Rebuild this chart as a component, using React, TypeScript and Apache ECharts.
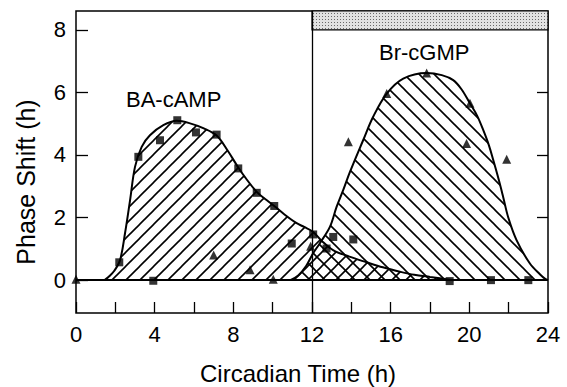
import React, { useEffect, useRef } from "react";
import * as echarts from "echarts";

// ---- data ----
const xTickLabels = [0, 4, 8, 12, 16, 20, 24];
const xTicks = [0, 2, 4, 6, 8, 10, 12, 14, 16, 18, 20, 22, 24];
const yTickLabels = [0, 2, 4, 6, 8];
const yRightTicks = [2, 4, 6];
const xRange = [0, 24];
const yRange = [-1.05, 8.6];
const darkPeriod = [12, 24];
const darkBarBottom = 8;
const midLine = 12;

// fitted curve of BA-cAMP (h)
const baCurve = [
  [1.45, 0], [1.65, 0.1], [1.95, 0.3], [2.24, 0.64], [2.49, 1.49], [2.75, 2.56],
  [3.0, 3.62], [3.34, 4.26], [3.76, 4.63], [4.44, 4.95], [5.12, 5.09], [5.8, 5.01],
  [6.5, 4.85], [7.15, 4.62], [7.7, 4.15], [8.25, 3.6], [8.7, 3.2], [9.19, 2.82],
  [9.6, 2.6], [10.08, 2.37], [10.6, 2.1], [11.22, 1.82], [11.6, 1.7], [12.06, 1.54],
  [12.5, 1.25], [13.07, 0.96], [13.9, 0.75], [14.78, 0.57], [15.6, 0.41], [16.47, 0.27],
  [17.2, 0.17], [18.0, 0.1], [18.6, 0.05], [19.2, 0],
];

// fitted curve of Br-cGMP (h)
const brCurve = [
  [10.9, 0], [11.3, 0.15], [11.7, 0.45], [12.05, 0.85], [12.4, 1.18], [12.91, 1.7],
  [13.25, 2.34], [13.6, 2.9], [13.93, 3.46], [14.6, 4.47], [15.11, 5.22], [15.8, 5.96],
  [16.64, 6.44], [17.83, 6.62], [18.6, 6.55], [19.18, 6.39], [19.6, 6.1], [20.03, 5.65],
  [20.4, 5.25], [20.71, 4.79], [21.0, 4.3], [21.22, 3.83], [21.5, 3.2], [21.72, 2.66],
  [21.98, 2.0], [22.4, 1.28], [23.08, 0.53], [23.6, 0.18], [23.84, 0.05], [24, 0],
];

// measured points, BA-cAMP (squares)
const baPoints = [
  [2.2, 0.57], [3.17, 3.94], [4.27, 4.47], [5.15, 5.11], [6.1, 4.72], [7.15, 4.65],
  [8.25, 3.57], [9.19, 2.79], [10.08, 2.37], [10.97, 1.17], [12.06, 1.46], [12.74, 1.01],
  [13.08, 1.38], [14.1, 1.3], [19.0, -0.03], [21.1, 0.0], [23.0, 0.0], [3.93, -0.02],
];

// measured points, Br-cGMP (triangles)
const brPoints = [
  [0, 0.03], [7.0, 0.8], [8.85, 0.33], [10.03, 0.03], [11.93, 1.08], [13.85, 4.42],
  [15.8, 5.96], [17.83, 6.62], [19.86, 4.37], [20.03, 5.65], [21.9, 3.86],
];

const FONT = "'Liberation Sans', Arial, Helvetica, sans-serif";

function hatchCanvas(size: number, dir: "/" | "\\", lw: number) {
  const c = document.createElement("canvas");
  c.width = size;
  c.height = size;
  const ctx = c.getContext("2d")!;
  ctx.strokeStyle = "#000";
  ctx.lineWidth = lw;
  const s = size;
  const seg = (x1: number, y1: number, x2: number, y2: number) => {
    ctx.beginPath();
    ctx.moveTo(x1, y1);
    ctx.lineTo(x2, y2);
    ctx.stroke();
  };
  if (dir === "/") {
    seg(-2, s + 2, s + 2, -2);
    seg(-2, 2, 2, -2);
    seg(s - 2, s + 2, s + 2, s - 2);
  } else {
    seg(-2, -2, s + 2, s + 2);
    seg(s - 2, -2, s + 2, 2);
    seg(-2, s - 2, 2, s + 2);
  }
  return c;
}

function stippleCanvas() {
  const c = document.createElement("canvas");
  c.width = 3;
  c.height = 3;
  const ctx = c.getContext("2d")!;
  ctx.fillStyle = "#e2e2e2";
  ctx.fillRect(0, 0, 3, 3);
  ctx.fillStyle = "#6a6a6a";
  ctx.fillRect(1, 1, 1, 1);
  return c;
}

export default function App() {
  const ref = useRef<HTMLDivElement>(null);

  useEffect(() => {
    if (!ref.current) return;
    const chart = echarts.init(ref.current, null, { renderer: "svg" });

    const baPattern: any = { image: hatchCanvas(14, "/", 1.6), repeat: "repeat", imageWidth: 14, imageHeight: 14 };
    const brPattern: any = { image: hatchCanvas(15, "\\", 1.6), repeat: "repeat", imageWidth: 15, imageHeight: 15 };
    const stipple: any = { image: stippleCanvas(), repeat: "repeat", imageWidth: 3, imageHeight: 3 };

    const option: any = {
      animation: false,
      backgroundColor: "#fff",
      grid: {
        left: 76,
        right: 19,
        top: 11,
        bottom: 74,
        show: true,
        borderColor: "#000",
        borderWidth: 1.5,
        backgroundColor: "transparent",
      },
      xAxis: {
        type: "value",
        min: xRange[0],
        max: xRange[1],
        interval: 2,
        axisLine: { show: false, onZero: false },
        axisTick: { show: true, inside: true, length: 11, lineStyle: { color: "#000", width: 1.3 }, customValues: xTicks },
        axisLabel: { customValues: xTickLabels, color: "#000", fontFamily: FONT, fontSize: 22, margin: 10 },
        splitLine: { show: false },
      },
      yAxis: [
        {
          type: "value",
          min: yRange[0],
          max: yRange[1],
          axisLine: { show: false, onZero: false },
          axisTick: { show: true, inside: true, length: 12, lineStyle: { color: "#000", width: 1.3 }, customValues: yTickLabels },
          axisLabel: { customValues: yTickLabels, color: "#000", fontFamily: FONT, fontSize: 22, margin: 10 },
          splitLine: { show: false },
        },
        {
          type: "value",
          position: "right",
          min: yRange[0],
          max: yRange[1],
          axisLine: { show: false, onZero: false },
          axisTick: { show: true, inside: true, length: 11, lineStyle: { color: "#000", width: 1.3 }, customValues: yRightTicks },
          axisLabel: { show: false },
          splitLine: { show: false },
        },
      ],
      graphic: [
        { type: "text", left: 126, top: 88, style: { text: "BA-cAMP", fill: "#000", font: `22px ${FONT}` } },
        { type: "text", left: 379, top: 41, style: { text: "Br-cGMP", fill: "#000", font: `22px ${FONT}` } },
        {
          type: "text",
          x: 298,
          y: 373,
          style: { text: "Circadian Time (h)", fill: "#000", font: `24px ${FONT}`, align: "center", verticalAlign: "middle" },
        },
        {
          type: "text",
          x: 26,
          y: 182,
          rotation: Math.PI / 2,
          style: { text: "Phase Shift (h)", fill: "#000", font: `25px ${FONT}`, align: "center", verticalAlign: "middle" },
        },
      ],
      series: [
        {
          type: "line",
          name: "BA-cAMP",
          data: baCurve,
          smooth: 0.35,
          symbol: "none",
          lineStyle: { color: "#000", width: 2 },
          areaStyle: { color: baPattern, opacity: 1 },
          z: 2,
          markArea: {
            silent: true,
            itemStyle: { color: stipple, borderColor: "#000", borderWidth: 1.2 },
            data: [[{ xAxis: darkPeriod[0], yAxis: darkBarBottom }, { xAxis: darkPeriod[1], yAxis: yRange[1] }]],
          },
          markLine: {
            silent: true,
            symbol: ["none", "none"],
            label: { show: false },
            data: [
              { yAxis: 0, lineStyle: { color: "#000", type: "solid", width: 2.2 } },
              { xAxis: midLine, lineStyle: { color: "#000", type: "solid", width: 1.3 } },
            ],
          },
        },
        {
          type: "line",
          name: "Br-cGMP",
          data: brCurve,
          smooth: 0.35,
          symbol: "none",
          lineStyle: { color: "#000", width: 2 },
          areaStyle: { color: brPattern, opacity: 1 },
          z: 2,
        },
        {
          type: "scatter",
          name: "BA-cAMP points",
          data: baPoints,
          symbol: "rect",
          symbolSize: 8,
          itemStyle: { color: "#000" },
          z: 4,
        },
        {
          type: "scatter",
          name: "Br-cGMP points",
          data: brPoints,
          symbol: "triangle",
          symbolSize: 9,
          itemStyle: { color: "#000" },
          z: 4,
        },
      ],
    };

    chart.setOption(option);
    return () => chart.dispose();
  }, []);

  return <div ref={ref} style={{ width: 567, height: 387, position: "absolute", left: 0, top: 0 }} />;
}
